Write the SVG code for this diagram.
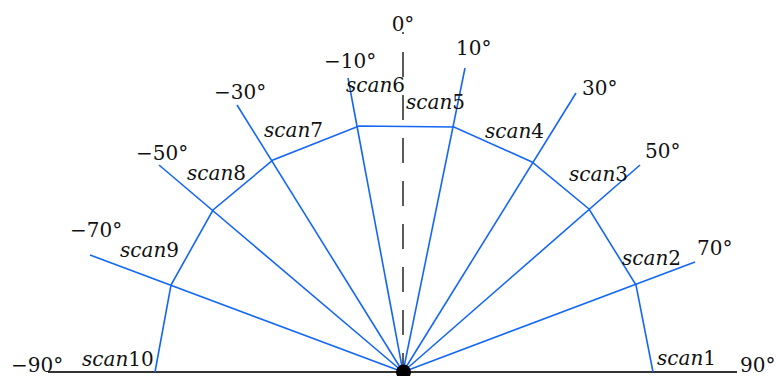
<svg xmlns="http://www.w3.org/2000/svg" width="776" height="376" viewBox="0 0 776 376">
<style>
text{font-family:"DejaVu Serif","Liberation Serif",serif;font-size:20px;fill:#111}
.it{font-style:italic}
.ray{stroke:#1466f5;stroke-width:1.6;fill:none}
</style>
<rect width="776" height="376" fill="#fff"/>
<line x1="48" y1="372" x2="737" y2="372" stroke="#333" stroke-width="2"/>
<line x1="403" y1="32" x2="403" y2="372" stroke="#333" stroke-width="1.6" stroke-dasharray="25 18" stroke-dashoffset="23"/>
<g id="rays">
<line class="ray" x1="403" y1="372" x2="90" y2="255"/>
<line class="ray" x1="403" y1="372" x2="159" y2="165"/>
<line class="ray" x1="403" y1="372" x2="237" y2="105"/>
<line class="ray" x1="403" y1="372" x2="348" y2="78"/>
<line class="ray" x1="403" y1="372" x2="465" y2="68"/>
<line class="ray" x1="403" y1="372" x2="576" y2="93"/>
<line class="ray" x1="403" y1="372" x2="640" y2="165"/>
<line class="ray" x1="403" y1="372" x2="695" y2="262"/>
</g>
<g id="boundary">
<polyline class="ray" points="155,372 171,285 213,210 273,160 359,126 454,127 532,162 589,209 636,285 653,372"/>
</g>
<circle id="origin" cx="403.5" cy="372" r="7.5" fill="#000"/>
<g id="angles">
<text x="403" y="31" text-anchor="middle">0°</text>
<text x="324" y="68">−10°</text>
<text x="456" y="55">10°</text>
<text x="214" y="99">−30°</text>
<text x="582" y="95">30°</text>
<text x="136" y="160">−50°</text>
<text x="645" y="158">50°</text>
<text x="70" y="237">−70°</text>
<text x="697" y="255">70°</text>
<text x="11" y="372">−90°</text>
<text x="740" y="372">90°</text>
</g>
<g id="scans">
<text x="346" y="92"><tspan class="it">scan</tspan>6</text>
<text x="406" y="109"><tspan class="it">scan</tspan>5</text>
<text x="264" y="137"><tspan class="it">scan</tspan>7</text>
<text x="485" y="138"><tspan class="it">scan</tspan>4</text>
<text x="187" y="180"><tspan class="it">scan</tspan>8</text>
<text x="569" y="181"><tspan class="it">scan</tspan>3</text>
<text x="120" y="257"><tspan class="it">scan</tspan>9</text>
<text x="622" y="265"><tspan class="it">scan</tspan>2</text>
<text x="82" y="366"><tspan class="it">scan</tspan>10</text>
<text x="657" y="365"><tspan class="it">scan</tspan>1</text>
</g>
</svg>
